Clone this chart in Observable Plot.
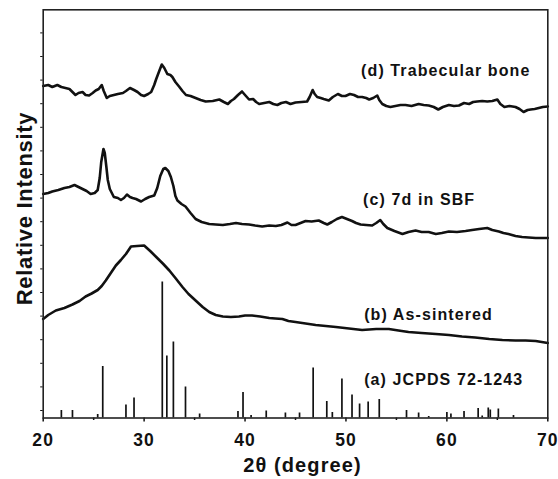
<!DOCTYPE html>
<html>
<head>
<meta charset="utf-8">
<script src="https://cdn.jsdelivr.net/npm/d3@7"></script>
<script src="https://cdn.jsdelivr.net/npm/@observablehq/plot@0.6"></script>
<style>
  html, body { margin: 0; padding: 0; background: #fff; }
</style>
</head>
<body>
<div id="chart"></div>
<script>
// ---- Data (2θ in degrees, relative intensity in arbitrary stacked units) ----
const xTicks = [20, 30, 40, 50, 60, 70];
const xTickLabels = ["20", "30", "40", "50", "60", "70"];
const xMinorTicks = [25, 35, 45, 55, 65];

// (a) JCPDS 72-1243 reference stick pattern
const jcpdsTheta = [21.8, 22.9, 25.4, 25.9, 28.2, 29.0, 31.8, 32.25, 32.9, 34.1, 35.5, 39.3, 39.8, 40.6, 42.1, 44.0,
  45.4, 46.75, 48.1, 48.65, 49.6, 50.6, 51.35, 52.2, 53.3, 56.0, 57.2, 58.2, 60.0, 60.4, 61.7, 63.1, 63.5, 64.1, 64.3, 65.1, 66.6];
const jcpdsIntensity = [7.5, 7.5, 3.5, 51.5, 13, 20, 136, 62, 76, 31, 4, 6.5, 25.5, 2.5, 7, 5,
  5, 50, 16.5, 5.5, 39, 23, 14, 16, 18.5, 7.5, 5, 1.5, 5.5, 4, 6.5, 9.5, 2, 10, 8, 9, 2.5];

// (b) As-sintered
const bTheta = [20.0, 20.5, 21.25, 22.1, 22.9, 23.6, 24.2, 24.8, 25.4, 25.8, 26.2, 26.7, 27.2, 27.7, 28.2, 28.7, 29.3, 30.0,
  30.6, 31.2, 31.9, 32.5, 33.1, 33.8, 34.4, 35.1, 35.8, 36.45, 37.1, 37.8, 38.6, 39.4, 40.0, 40.7, 41.5, 42.4, 43.0, 43.7,
  44.3, 45.0, 46.0, 47.0, 48.0, 49.0, 50.3, 51.6, 53.0, 54.25, 55.2, 56.2, 57.5, 58.9, 60.2, 61.5, 62.8, 64.2, 65.5, 66.8,
  67.8, 68.8, 69.4, 70.0];
const bIntensity = [99, 103, 107.5, 110, 113.5, 117, 121.5, 124.5, 128, 132, 137.5, 145, 152.5, 158, 164, 171.5, 172, 172.5,
  167, 161, 154, 147.5, 140, 131, 124, 117.5, 111, 106, 103, 101.5, 101, 101.5, 102.5, 102.5, 101.5, 100, 99.5, 99,
  97, 96, 94.5, 93, 92, 91, 89.5, 88, 89, 89, 87.5, 86, 85, 84, 83, 81.5, 80.5, 79, 78, 77.5,
  77.5, 77, 76, 75];

// (c) 7d in SBF
const cTheta = [20.0, 20.5, 20.9, 21.5, 22.1, 22.6, 23.1, 23.5, 23.9, 24.3, 24.7, 25.1, 25.4, 25.6, 25.75, 25.97, 26.1, 26.25,
  26.4, 26.6, 27.0, 27.4, 27.7, 28.0, 28.3, 28.6, 28.85, 29.2, 29.7, 30.1, 30.5, 31.0, 31.3, 31.6, 31.9, 32.1, 32.4, 32.65,
  32.9, 33.1, 33.3, 33.7, 34.1, 34.6, 35.1, 35.7, 36.45, 37.1, 37.8, 38.5, 39.1, 39.7, 40.4, 41.0, 41.7, 42.4, 43.05, 43.6,
  44.2, 44.6, 45.0, 45.5, 46.0, 46.6, 47.3, 47.8, 48.15, 48.6, 49.1, 49.6, 50.1, 50.6, 51.0, 51.45, 52.0, 52.6, 53.0, 53.4,
  53.7, 54.1, 54.8, 55.6, 56.2, 56.9, 57.5, 58.2, 58.9, 59.5, 60.2, 61.0, 61.85, 62.5, 63.2, 64.0, 64.5, 65.15, 65.6, 66.1,
  66.8, 67.45, 68.1, 68.8, 69.4, 70.0];
const cIntensity = [224, 225, 226.5, 228, 230, 231, 233, 231, 229, 227, 224, 225, 228, 240, 256, 269, 265, 252,
  238, 229, 221, 220, 218, 220, 223.5, 221, 220, 219, 216.5, 219, 221, 222.5, 230, 242, 249, 250, 247, 241,
  232, 222, 217.5, 214, 211.5, 205, 199, 196, 194, 193.5, 193, 194, 195, 194, 193.5, 192.5, 191.5, 192.5, 192, 193,
  195.5, 193, 193, 195, 197, 196.5, 197.5, 195, 193.5, 196, 199, 201, 199, 197, 195, 193.5, 193, 192.5, 195, 198,
  194, 190, 187, 184, 186, 187.5, 186, 186, 184, 185, 186.5, 186, 187, 188, 189, 190, 188, 186.5, 185, 184,
  182, 181, 180.5, 180, 180, 180];

// (d) Trabecular bone
const dTheta = [20.0, 20.5, 20.9, 21.4, 21.8, 22.2, 22.6, 22.9, 23.2, 23.5, 23.9, 24.2, 24.55, 24.9, 25.2, 25.5, 25.8, 26.0,
  26.3, 26.6, 27.0, 27.4, 27.9, 28.2, 28.6, 29.0, 29.35, 29.7, 30.0, 30.4, 30.7, 31.0, 31.2, 31.5, 31.75, 32.0, 32.3, 32.6,
  32.8, 33.1, 33.5, 33.8, 34.15, 34.6, 35.1, 35.6, 36.1, 36.8, 37.45, 37.9, 38.3, 38.6, 38.9, 39.3, 39.7, 40.0, 40.4, 40.8,
  41.1, 41.4, 41.9, 42.4, 42.8, 43.2, 43.6, 44.05, 44.5, 45.0, 45.6, 46.15, 46.4, 46.7, 46.9, 47.15, 47.5, 47.8, 48.3, 48.7,
  49.2, 49.6, 49.95, 50.4, 50.8, 51.2, 51.6, 52.0, 52.3, 52.7, 53.1, 53.3, 53.6, 54.0, 54.4, 54.9, 55.4, 55.9, 56.5, 57.2,
  57.7, 58.2, 58.7, 59.15, 59.6, 60.2, 60.7, 61.2, 61.7, 62.2, 62.6, 63.0, 63.5, 64.0, 64.5, 65.0, 65.3, 65.7, 66.2, 66.8,
  67.2, 67.6, 68.0, 68.3, 68.7, 69.1, 69.5, 70.0];
const dIntensity = [332, 333, 331, 333, 331, 330, 329, 326, 323, 325, 326, 323, 322.5, 325, 327.5, 329, 333, 327,
  320, 322, 323, 324, 325, 327, 330, 328, 326, 323, 322, 324, 326, 333, 339, 347, 353.5, 350, 344, 343,
  341, 336, 331, 327, 323, 322, 320, 318, 316.5, 317, 318.5, 316, 314, 317, 319, 323, 326.5, 323, 318.5, 319,
  316, 314, 315, 316, 314, 313, 315, 316, 314, 315.5, 316, 316.5, 321, 328, 324, 321, 320, 319, 317.5, 321,
  324, 322, 322, 324, 323, 321, 321, 320, 318.5, 320, 322.5, 318, 314, 312, 311, 312, 313, 313, 312, 314,
  313, 312.5, 311, 308.5, 311, 313, 312, 312.5, 315, 314, 316, 316.5, 317, 316.5, 317, 318.5, 314, 311, 312, 311,
  309, 306, 308, 308.5, 309, 310, 311, 311.5];

const curveLabels = ["(d) Trabecular bone", "(c) 7d in SBF", "(b) As-sintered", "(a) JCPDS 72-1243"];
const curveLabelTheta = [51.5, 51.7, 51.8, 51.8];
const curveLabelY = [347, 218.5, 103.5, 38.5];

const xLabel = "2θ (degree)";
const yLabel = "Relative Intensity";

// ---- Build tables ----
const zip = (xs, ys) => xs.map((x, i) => ({x, y: ys[i]}));
const sticks = zip(jcpdsTheta, jcpdsIntensity);
const curveB = zip(bTheta, bIntensity);
const curveC = zip(cTheta, cIntensity);
const curveD = zip(dTheta, dIntensity);
const labels = curveLabels.map((t, i) => ({t, x: curveLabelTheta[i], y: curveLabelY[i]}));
const yTickVals = d3.range(7.5, 408, 23.6);

const ink = "#111";
const chart = Plot.plot({
  width: 558,
  height: 479,
  marginLeft: 42.7,
  marginRight: 10.7,
  marginTop: 9.3,
  marginBottom: 61.5,
  x: {domain: [20, 70]},
  y: {domain: [0, 408.2]},
  style: {fontFamily: "'Liberation Sans', Arial, sans-serif", fontWeight: "bold", color: ink, background: "#fff", overflow: "visible"},
  marks: [
    Plot.axisX({ticks: xTicks, tickFormat: (d) => xTickLabels[xTicks.indexOf(d)], tickSize: 4, tickPadding: 12, fontSize: 17.5, label: null, strokeWidth: 1.5}),
    Plot.axisX({ticks: xMinorTicks, tickFormat: () => "", tickSize: 2.5, label: null, strokeWidth: 1.5}),
    Plot.axisY({ticks: yTickVals, tickFormat: () => "", tickSize: 2.5, label: null, strokeWidth: 1}),
    Plot.ruleX(sticks, {x: "x", y1: 0, y2: "y", stroke: ink, strokeWidth: 1.7}),
    Plot.line(curveB, {x: "x", y: "y", stroke: ink, strokeWidth: 2.6}),
    Plot.line(curveC, {x: "x", y: "y", stroke: ink, strokeWidth: 2.6}),
    Plot.line(curveD, {x: "x", y: "y", stroke: ink, strokeWidth: 2.6}),
    Plot.text(labels, {x: "x", y: "y", text: "t", textAnchor: "start", lineAnchor: "middle", fontSize: 16, fontWeight: "bold", fill: ink}),
    Plot.text([xLabel], {text: d => d, frameAnchor: "bottom", textAnchor: "middle", lineAnchor: "middle", dx: 7, dy: 47.5, fontSize: 20, fontWeight: "bold", fill: ink}),
    Plot.text([yLabel], {text: d => d, frameAnchor: "left", textAnchor: "middle", lineAnchor: "middle", rotate: -90, dx: -18.5, dy: -5.4, fontSize: 22, fontWeight: "bold", fill: ink}),
    Plot.frame({stroke: "#222", strokeWidth: 1.6})
  ]
});
d3.select(chart).selectAll("text").attr("letter-spacing", "1.1px");
d3.select(chart).selectAll("text").filter(function() { return this.textContent === yLabel; }).attr("letter-spacing", "0.7px");
document.getElementById("chart").appendChild(chart);
</script>
</body>
</html>
